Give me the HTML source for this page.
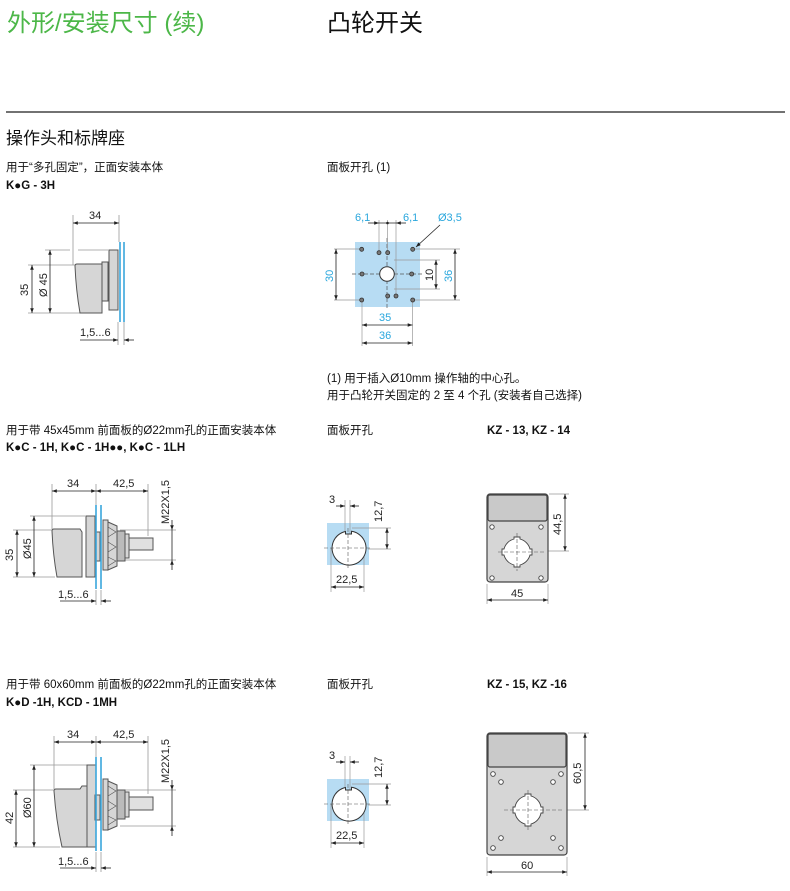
<!DOCTYPE html>
<html><head><meta charset="utf-8">
<style>
html,body{margin:0;padding:0;background:#fff}
body{width:790px;height:891px;position:relative;overflow:hidden;font-family:"Liberation Sans","Noto Sans CJK SC",sans-serif}
svg{position:absolute;left:0;top:0}
</style></head><body>
<svg width="790" height="891" viewBox="0 0 790 891" xmlns="http://www.w3.org/2000/svg" font-family="Liberation Sans, Noto Sans CJK SC, sans-serif">
<defs>
<marker id="a" viewBox="0 0 8 6" refX="8" refY="3" markerWidth="6" markerHeight="5" orient="auto-start-reverse"><path d="M0,0 L8,3 L0,6 z" fill="#222"/></marker>
</defs>
<!-- headers -->
<text x="7" y="31" font-size="24" fill="#4cb748">外形/安装尺寸 (续)</text>
<text x="327" y="31" font-size="24" fill="#111">凸轮开关</text>
<line x1="6" y1="112" x2="785" y2="112" stroke="#444" stroke-width="1.5"/>
<text x="6" y="144" font-size="17" fill="#111">操作头和标牌座</text>
<g font-size="11.5" fill="#111">
<text x="6" y="171">用于“多孔固定”，正面安装本体</text>
<text x="6" y="189" font-weight="bold">K●G - 3H</text>
<text x="327" y="171">面板开孔 (1)</text>
<text x="327" y="382">(1) 用于插入Ø10mm 操作轴的中心孔。</text>
<text x="327" y="399">用于凸轮开关固定的 2 至 4 个孔 (安装者自己选择)</text>
<text x="6" y="434">用于带 45x45mm 前面板的Ø22mm孔的正面安装本体</text>
<text x="6" y="451" font-weight="bold">K●C - 1H, K●C - 1H●●, K●C - 1LH</text>
<text x="327" y="434">面板开孔</text>
<text x="487" y="434" font-weight="bold">KZ - 13, KZ - 14</text>
<text x="6" y="688">用于带 60x60mm 前面板的Ø22mm孔的正面安装本体</text>
<text x="6" y="706" font-weight="bold">K●D -1H, KCD - 1MH</text>
<text x="327" y="688">面板开孔</text>
<text x="487" y="688" font-weight="bold">KZ - 15, KZ -16</text>
</g>

<g stroke="#999" stroke-width="0.8" fill="none">
<!-- diag1 ext lines -->
<line x1="73" y1="215" x2="73" y2="265"/><line x1="119" y1="215" x2="119" y2="242"/>
<line x1="45" y1="250" x2="70" y2="250"/><line x1="78" y1="250" x2="108" y2="250"/>
<line x1="28" y1="265" x2="75" y2="265"/><line x1="28" y1="313" x2="80" y2="313"/>
<line x1="118" y1="322" x2="118" y2="345"/><line x1="124" y1="322" x2="124" y2="345"/>
</g>
<g stroke="#555" stroke-width="1" fill="#d6d6d6">
<path d="M75,266 Q75,264 77,264 L102,264 L102,313 L80,313 Q76,290 75,266 z"/>
<rect x="102" y="262" width="6" height="39"/>
<rect x="109" y="250" width="9" height="60"/>
</g>
<g stroke="#3aa6dc" stroke-width="1.6"><line x1="120" y1="242" x2="120" y2="322"/><line x1="124" y1="242" x2="124" y2="322"/></g>
<g stroke="#222" stroke-width="0.8" fill="none">
<line x1="73" y1="223" x2="119" y2="223" marker-start="url(#a)" marker-end="url(#a)"/>
<line x1="32" y1="265" x2="32" y2="313" marker-start="url(#a)" marker-end="url(#a)"/>
<line x1="50" y1="250" x2="50" y2="313" marker-start="url(#a)" marker-end="url(#a)"/>
<line x1="80" y1="340" x2="118" y2="340" marker-end="url(#a)"/>
<line x1="134" y1="340" x2="124" y2="340" marker-end="url(#a)"/>
</g>
<g font-size="11" fill="#222">
<text x="89" y="219">34</text>
<text transform="translate(28,296) rotate(-90)">35</text>
<text transform="translate(47,297) rotate(-90)">Ø 45</text>
<text x="80" y="336">1,5...6</text>
</g>

<!-- diag2 panel cut -->
<rect x="355" y="242" width="65" height="65" fill="#b7dcf3"/>
<g stroke="#555" stroke-width="0.7" stroke-dasharray="4,2">
<line x1="352" y1="274" x2="424" y2="274"/><line x1="387" y1="238" x2="387" y2="310"/>
</g>
<g stroke="#999" stroke-width="0.7" fill="none">
<line x1="379" y1="220" x2="379" y2="250"/><line x1="387.5" y1="220" x2="387.5" y2="250"/><line x1="396" y1="220" x2="396" y2="294"/>
<line x1="334" y1="249" x2="360" y2="249"/><line x1="334" y1="300" x2="360" y2="300"/>
<line x1="394" y1="260" x2="440" y2="260"/><line x1="394" y1="289" x2="440" y2="289"/>
<line x1="415" y1="249" x2="460" y2="249"/><line x1="415" y1="300" x2="460" y2="300"/>
<line x1="362" y1="302" x2="362" y2="346"/><line x1="412.5" y1="302" x2="412.5" y2="346"/>
</g>
<g fill="#fff" stroke="#333" stroke-width="1">
<circle cx="387" cy="274" r="7.3"/>
</g>
<g fill="#777" stroke="#333" stroke-width="0.8">
<circle cx="361.7" cy="249.3" r="2"/><circle cx="412.7" cy="249.3" r="2"/><circle cx="361.7" cy="300" r="2"/><circle cx="412.7" cy="300" r="2"/>
<circle cx="362" cy="274" r="2"/><circle cx="411.7" cy="274" r="2"/><circle cx="379" cy="252.7" r="2"/><circle cx="387.7" cy="252.7" r="2"/>
<circle cx="387.7" cy="296" r="2"/><circle cx="396" cy="296" r="2"/>
</g>
<g stroke="#222" stroke-width="0.8" fill="none">
<line x1="368" y1="223" x2="379" y2="223" marker-end="url(#a)"/><line x1="379" y1="223" x2="396" y2="223"/><line x1="406" y1="223" x2="396" y2="223" marker-end="url(#a)"/>
<line x1="336" y1="249" x2="336" y2="300" marker-start="url(#a)" marker-end="url(#a)"/>
<line x1="436" y1="260" x2="436" y2="289" marker-start="url(#a)" marker-end="url(#a)"/>
<line x1="455" y1="249" x2="455" y2="300" marker-start="url(#a)" marker-end="url(#a)"/>
<line x1="362" y1="325" x2="412.5" y2="325" marker-start="url(#a)" marker-end="url(#a)"/>
<line x1="362" y1="343" x2="412.5" y2="343" marker-start="url(#a)" marker-end="url(#a)"/>
<line x1="440" y1="225" x2="416" y2="247" marker-end="url(#a)"/>
</g>
<circle cx="387.5" cy="223" r="1.3" fill="#222"/>
<g font-size="11" fill="#2aa7dd">
<text x="355" y="221">6,1</text><text x="403" y="221">6,1</text><text x="438" y="221">Ø3,5</text>
<text transform="translate(333,282) rotate(-90)">30</text>
<text transform="translate(452,282) rotate(-90)">36</text>
<text x="379" y="321">35</text><text x="379" y="339">36</text>
</g>
<text transform="translate(433,281) rotate(-90)" font-size="11" fill="#222">10</text>

<!-- diag3 and diag5 -->
<g id="assy3">
<g stroke="#999" stroke-width="0.8" fill="none">
<line x1="52" y1="484" x2="52" y2="529"/><line x1="96" y1="484" x2="96" y2="505"/><line x1="148" y1="484" x2="148" y2="536"/>
<line x1="30" y1="516" x2="85" y2="516"/><line x1="13" y1="530" x2="52" y2="530"/><line x1="13" y1="577" x2="55" y2="577"/>
<line x1="120" y1="530" x2="176" y2="530"/><line x1="120" y1="560" x2="176" y2="560"/>
<line x1="96" y1="590" x2="96" y2="605"/><line x1="101" y1="590" x2="101" y2="605"/>
</g>
<g stroke="#555" stroke-width="1" fill="#d6d6d6">
<path d="M52,531 Q52,529 54,529 L80,529 L82,532 L82,577 L57,577 Q53,555 52,531 z"/>
<rect x="86" y="516" width="9" height="61"/>
<rect x="95" y="532" width="5" height="29"/>
<rect x="103" y="520" width="5" height="50"/>
<path d="M108,522 L117,526 L117,566 L108,570 z"/>
<rect x="117" y="531" width="8" height="30" fill="#bbb"/>
<rect x="125" y="534" width="4" height="24"/>
<rect x="129" y="538" width="24" height="12" fill="#e0e0e0"/>
</g>
<g stroke="#555" stroke-width="0.6" fill="none"><path d="M108,527 L116,532 L108,537 M108,542 L116,547 L108,552 M108,557 L116,561 L108,566"/></g>
<g stroke="#3aa6dc" stroke-width="1.6"><line x1="96" y1="505" x2="96" y2="589"/><line x1="101" y1="505" x2="101" y2="589"/></g>
<g stroke="#222" stroke-width="0.8" fill="none">
<line x1="52" y1="491" x2="96" y2="491" marker-start="url(#a)" marker-end="url(#a)"/>
<line x1="96" y1="491" x2="148" y2="491" marker-start="url(#a)" marker-end="url(#a)"/>
<line x1="172" y1="520" x2="172" y2="530" marker-end="url(#a)"/><line x1="172" y1="530" x2="172" y2="560"/><line x1="172" y1="570" x2="172" y2="560" marker-end="url(#a)"/>
<line x1="17" y1="530" x2="17" y2="577" marker-start="url(#a)" marker-end="url(#a)"/>
<line x1="34" y1="516" x2="34" y2="577" marker-start="url(#a)" marker-end="url(#a)"/>
<line x1="60" y1="601" x2="96" y2="601" marker-end="url(#a)"/>
<line x1="111" y1="601" x2="101" y2="601" marker-end="url(#a)"/>
</g>
<g font-size="11" fill="#222">
<text x="67" y="487">34</text><text x="113" y="487">42,5</text>
<text transform="translate(169,524) rotate(-90)">M22X1,5</text>
<text transform="translate(13,561) rotate(-90)">35</text>
<text transform="translate(31,559) rotate(-90)">Ø45</text>
<text x="58" y="598">1,5...6</text>
</g>
</g>

<g>
<g stroke="#999" stroke-width="0.8" fill="none">
<line x1="54" y1="736" x2="54" y2="789"/><line x1="96" y1="736" x2="96" y2="757"/><line x1="148" y1="736" x2="148" y2="794"/>
<line x1="30" y1="765" x2="87" y2="765"/><line x1="13" y1="790" x2="54" y2="790"/><line x1="13" y1="847" x2="60" y2="847"/>
<line x1="120" y1="790" x2="176" y2="790"/><line x1="120" y1="826" x2="176" y2="826"/>
<line x1="96" y1="852" x2="96" y2="872"/><line x1="101" y1="852" x2="101" y2="872"/>
</g>
<g stroke="#555" stroke-width="1" fill="#d6d6d6">
<path d="M54,791 Q54,789 56,789 L80,789 L82,786 L87,786 L87,847 L62,847 Q56,820 54,791 z"/>
<rect x="87" y="765" width="9" height="82"/>
<rect x="95" y="795" width="5" height="25"/>
<rect x="103" y="779" width="5" height="51"/>
<path d="M108,781 L117,785 L117,826 L108,830 z"/>
<rect x="117" y="790" width="8" height="29" fill="#bbb"/>
<rect x="125" y="792" width="4" height="25"/>
<rect x="129" y="797" width="24" height="13" fill="#e0e0e0"/>
</g>
<g stroke="#555" stroke-width="0.6" fill="none"><path d="M108,786 L116,791 L108,796 M108,801 L116,806 L108,811 M108,816 L116,820 L108,825"/></g>
<g stroke="#3aa6dc" stroke-width="1.6"><line x1="96" y1="757" x2="96" y2="851"/><line x1="101" y1="757" x2="101" y2="851"/></g>
<g stroke="#222" stroke-width="0.8" fill="none">
<line x1="54" y1="742" x2="96" y2="742" marker-start="url(#a)" marker-end="url(#a)"/>
<line x1="96" y1="742" x2="148" y2="742" marker-start="url(#a)" marker-end="url(#a)"/>
<line x1="172" y1="780" x2="172" y2="790" marker-end="url(#a)"/><line x1="172" y1="790" x2="172" y2="826"/><line x1="172" y1="836" x2="172" y2="826" marker-end="url(#a)"/>
<line x1="16" y1="790" x2="16" y2="847" marker-start="url(#a)" marker-end="url(#a)"/>
<line x1="34" y1="765" x2="34" y2="847" marker-start="url(#a)" marker-end="url(#a)"/>
<line x1="60" y1="868" x2="96" y2="868" marker-end="url(#a)"/>
<line x1="111" y1="868" x2="101" y2="868" marker-end="url(#a)"/>
</g>
<g font-size="11" fill="#222">
<text x="67" y="738">34</text><text x="113" y="738">42,5</text>
<text transform="translate(169,783) rotate(-90)">M22X1,5</text>
<text transform="translate(13,824) rotate(-90)">42</text>
<text transform="translate(31,818) rotate(-90)">Ø60</text>
<text x="58" y="865">1,5...6</text>
</g>
</g>

<!-- panel cut small 1 -->
<g id="pc1">
<rect x="327" y="523" width="42" height="42" fill="#b7dcf3"/>
<g stroke="#999" stroke-width="0.7" fill="none">
<line x1="345" y1="500" x2="345" y2="535"/><line x1="350" y1="500" x2="350" y2="535"/>
<line x1="352" y1="528" x2="391" y2="528"/><line x1="368" y1="549" x2="391" y2="549"/>
<line x1="331" y1="548" x2="331" y2="592"/><line x1="364" y1="548" x2="364" y2="592"/>
</g>
<path d="M345.5,531.5 A17,17 0 1 0 351.5,531.3 L351.5,534 L345.5,534 z" fill="#fff" stroke="#333" stroke-width="1"/>
<g stroke="#555" stroke-width="0.6" stroke-dasharray="4,2"><line x1="324" y1="548" x2="372" y2="548"/><line x1="348" y1="528" x2="348" y2="568"/></g>
<g stroke="#222" stroke-width="0.8" fill="none">
<line x1="336" y1="506" x2="345" y2="506" marker-end="url(#a)"/><line x1="359" y1="506" x2="350" y2="506" marker-end="url(#a)"/>
<line x1="387" y1="528" x2="387" y2="549" marker-start="url(#a)" marker-end="url(#a)"/>
<line x1="331" y1="587" x2="364" y2="587" marker-start="url(#a)" marker-end="url(#a)"/>
</g>
<g font-size="11" fill="#222">
<text x="329" y="503">3</text>
<text transform="translate(382,522) rotate(-90)">12,7</text>
<text x="336" y="583">22,5</text>
</g>
</g>
<use href="#pc1" transform="translate(0,256)"/>

<!-- KZ-13 -->
<g stroke="#999" stroke-width="0.7" fill="none">
<line x1="549" y1="494" x2="569" y2="494"/><line x1="540" y1="551" x2="569" y2="551"/>
<line x1="487" y1="584" x2="487" y2="604"/><line x1="548" y1="584" x2="548" y2="604"/>
</g>
<rect x="487" y="494" width="61" height="88" rx="3" fill="#d6d6d6" stroke="#444" stroke-width="1.2"/>
<rect x="488" y="495" width="59" height="26" rx="2" fill="#c9c9c9" stroke="#444" stroke-width="1.2"/>
<g fill="#fff" stroke="#444" stroke-width="0.9">
<circle cx="492" cy="527" r="2.2"/><circle cx="541" cy="527" r="2.2"/><circle cx="492" cy="578" r="2.2"/><circle cx="541" cy="578" r="2.2"/>
<path d="M514,537 L520,537 L520,539 A14,14 0 0 1 530,549 L532,549 L532,555 L530,555 A14,14 0 0 1 520,565 L520,567 L514,567 L514,565 A14,14 0 0 1 504,555 L502,555 L502,549 L504,549 A14,14 0 0 1 514,539 z"/>
</g>
<g stroke="#555" stroke-width="0.6" stroke-dasharray="4,2"><line x1="498" y1="552" x2="545" y2="552"/><line x1="517" y1="533" x2="517" y2="571"/></g>
<g stroke="#222" stroke-width="0.8" fill="none">
<line x1="565" y1="494" x2="565" y2="551" marker-start="url(#a)" marker-end="url(#a)"/>
<line x1="487" y1="600" x2="548" y2="600" marker-start="url(#a)" marker-end="url(#a)"/>
</g>
<text transform="translate(561,535) rotate(-90)" font-size="11" fill="#222">44,5</text>
<text x="511" y="597" font-size="11" fill="#222">45</text>

<!-- KZ-15 -->
<g stroke="#999" stroke-width="0.7" fill="none">
<line x1="568" y1="733" x2="589" y2="733"/><line x1="560" y1="810" x2="589" y2="810"/>
<line x1="487" y1="857" x2="487" y2="876"/><line x1="567" y1="857" x2="567" y2="876"/>
</g>
<rect x="487" y="733" width="80" height="122" rx="3" fill="#d6d6d6" stroke="#444" stroke-width="1.2"/>
<rect x="488" y="734" width="78" height="33" rx="2" fill="#c9c9c9" stroke="#444" stroke-width="1.2"/>
<g fill="#fff" stroke="#444" stroke-width="0.9">
<circle cx="493" cy="774" r="2.3"/><circle cx="561" cy="774" r="2.3"/><circle cx="493" cy="848" r="2.3"/><circle cx="561" cy="848" r="2.3"/>
<circle cx="501" cy="782" r="2.3"/><circle cx="553" cy="782" r="2.3"/><circle cx="501" cy="838" r="2.3"/><circle cx="553" cy="838" r="2.3"/>
<path d="M525,794 L531,794 L531,796 A14,14 0 0 1 541,807 L543,807 L543,813 L541,813 A14,14 0 0 1 531,824 L531,826 L525,826 L525,824 A14,14 0 0 1 515,813 L513,813 L513,807 L515,807 A14,14 0 0 1 525,796 z"/>
</g>
<g stroke="#555" stroke-width="0.6" stroke-dasharray="4,2"><line x1="504" y1="810" x2="562" y2="810"/><line x1="528" y1="790" x2="528" y2="830"/></g>
<g stroke="#222" stroke-width="0.8" fill="none">
<line x1="585" y1="733" x2="585" y2="810" marker-start="url(#a)" marker-end="url(#a)"/>
<line x1="487" y1="872" x2="567" y2="872" marker-start="url(#a)" marker-end="url(#a)"/>
</g>
<text transform="translate(581,784) rotate(-90)" font-size="11" fill="#222">60,5</text>
<text x="521" y="869" font-size="11" fill="#222">60</text>
</svg>
</body></html>
